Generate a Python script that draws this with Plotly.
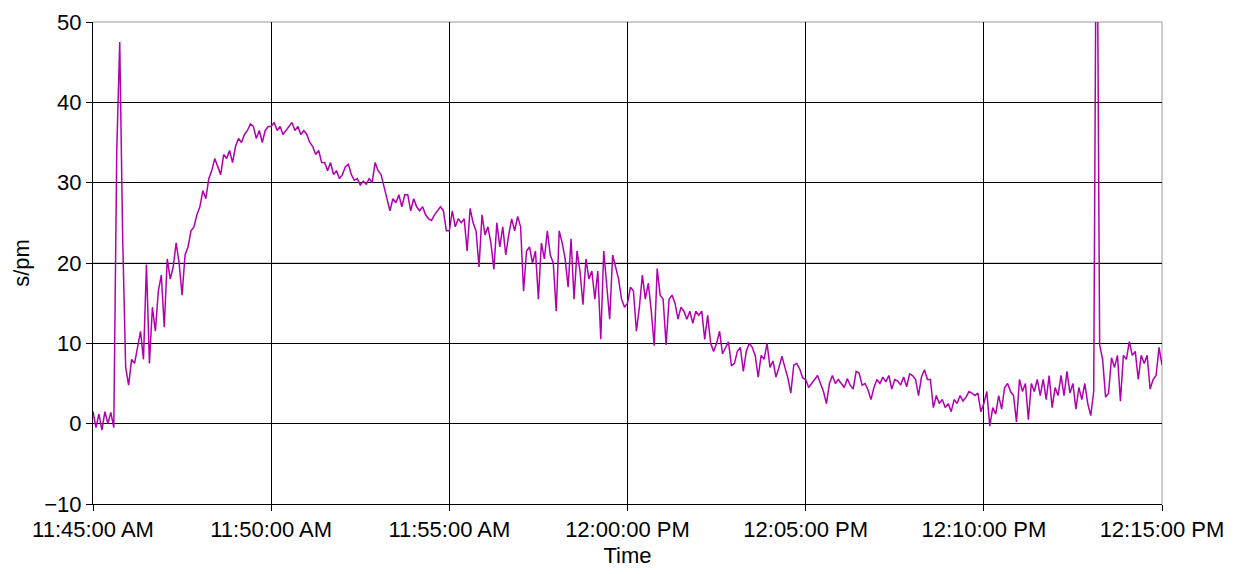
import pandas as pd
import plotly.graph_objects as go

start_time = "2020-01-01 11:45:00"
end_time = "2020-01-01 12:15:00"
sample_seconds = 5

# s/pm readings, one row per minute (12 readings of 5 s each)
minute_rows = [
    [1.5, -0.5, 1.2, -0.8, 1.5, 0, 1.4, -0.5, 34, 47.5, 23, 7],
    [4.8, 8, 7.5, 9.5, 11.5, 8, 19.8, 7.5, 14.5, 11.5, 16.5, 18.5],
    [12, 20.5, 18, 19.5, 22.5, 20, 16, 21, 22, 24, 24.5, 26],
    [27, 29, 28, 30.5, 31.5, 33, 32, 31, 33.5, 33, 34, 32.5],
    [34.5, 35.5, 35, 36, 36.5, 37.3, 37, 35.5, 36.5, 35, 36.5, 37],
    [37, 37.5, 36.5, 37, 36, 36.5, 37, 37.5, 36.5, 37, 36, 36.5],
    [36, 35, 34.5, 33.5, 34, 32.5, 32.5, 31.5, 32.5, 31, 31.5, 30.5],
    [31, 32, 32.3, 31, 30.3, 30.5, 29.7, 30.2, 29.8, 30.5, 30, 32.5],
    [31.5, 31, 29.5, 28, 26.5, 28, 27.5, 28.5, 27, 28.5, 28.5, 26.5],
    [28, 27, 26.5, 27, 26, 25.5, 25.3, 26, 26.5, 27, 26.5, 24],
    [24, 26.5, 24.5, 25.5, 25, 25.5, 21.5, 26.8, 25, 24, 19.5, 26],
    [23.5, 24.5, 22.5, 19.2, 25, 22, 24.5, 21, 23.5, 25.5, 24, 25.8],
    [24.5, 16.5, 21.5, 22, 20, 21.5, 15.5, 22.5, 20.5, 24, 21, 20],
    [14, 24, 22.5, 20.5, 17, 23, 15.5, 21.5, 19, 14.8, 20.5, 18],
    [19, 15.5, 19, 10.5, 21.5, 17, 13, 21, 19.5, 18, 15.5, 14.5],
    [15, 17, 16.5, 11.5, 14.5, 18.5, 15.5, 17.5, 14, 9.7, 19.3, 16],
    [15.5, 9.8, 15.5, 16, 15, 13, 14.5, 14, 13, 14, 12.5, 14],
    [13.5, 14, 10.5, 13.5, 10, 9, 10, 11.5, 8.7, 9.5, 10.2, 7.2],
    [7.5, 9, 9.5, 6.5, 9, 10, 9.5, 8.5, 5.8, 8.5, 8, 10],
    [7, 7.8, 5.8, 7, 8.4, 7, 5.7, 3.8, 7.3, 7.5, 6.8, 5.7],
    [5.5, 4.5, 5, 5.5, 6, 5, 4, 2.5, 5, 6, 5, 5.5],
    [5, 4.5, 5.6, 4.8, 4.3, 6.5, 6.3, 4.8, 5, 4.2, 3, 4.5],
    [5.5, 5, 5.8, 5.2, 6, 4.3, 5.5, 5.3, 4.8, 5.8, 4.6, 6.2],
    [6, 5.5, 3.5, 5.8, 6.7, 5.5, 5.5, 2, 3.5, 2.5, 3, 2],
    [2.5, 1.5, 3, 2.5, 3.5, 2.8, 3.3, 4, 3.8, 3.5, 3.8, 1.5],
    [2.5, 4, -0.3, 2, 1.2, 3.5, 1.8, 4.5, 5, 4, 3.5, 0.2],
    [5.5, 4, 5, 0.5, 5, 4, 5.5, 3.5, 5.5, 3, 6, 2],
    [4.5, 3.5, 6, 3.5, 6.5, 3.8, 5, 1.8, 4.5, 3, 5, 2.5],
    [1, 4, 75, 9.8, 8, 3.3, 3.8, 8.2, 7, 8.5, 2.8, 8.5],
    [8, 10.2, 8.5, 9, 5.5, 8.5, 7.5, 8.5, 4.3, 5.5, 6, 9.5],
    [7.3],
]

y_tick_values = [-10, 0, 10, 20, 30, 40, 50]

values = [v for row in minute_rows for v in row]
times = pd.date_range(start_time, periods=len(values), freq=f"{sample_seconds}s")

FONT = "Liberation Sans, Arial, sans-serif"

fig = go.Figure()
fig.add_trace(go.Scatter(
    x=times, y=values, mode="lines",
    line=dict(color="#B000B0", width=1.5),
    showlegend=False, hoverinfo="skip",
))

fig.update_layout(
    width=1234, height=566,
    margin=dict(l=85, r=80, t=14, b=70),
    paper_bgcolor="white", plot_bgcolor="white",
    font=dict(family=FONT, size=22, color="black"),
    showlegend=False,
    xaxis=dict(
        type="date",
        range=[start_time, end_time],
        dtick=300000,
        tickformat="%-I:%M:%S %p",
        showgrid=True, gridcolor="black", gridwidth=1,
        showline=True, linecolor="black", linewidth=1,
        ticks="outside", ticklen=6, tickcolor="black",
        zeroline=False,
        automargin=False,
        ticklabeloverflow="allow",
        title=dict(text="Time", font=dict(size=22), standoff=6),
        tickfont=dict(size=22),
    ),
    yaxis=dict(
        range=[-10, 50],
        tickvals=y_tick_values,
        ticktext=["\u221210" if v < 0 else str(v) for v in y_tick_values],
        showgrid=True, gridcolor="black", gridwidth=1,
        showline=True, linecolor="black", linewidth=1,
        ticks="outside", ticklen=6, tickcolor="black",
        zeroline=False,
        automargin=False,
        ticklabeloverflow="allow",
        title=dict(text="s/pm", font=dict(size=22), standoff=8),
        tickfont=dict(size=22),
    ),
    shapes=[
        dict(type="line", xref="paper", yref="y", x0=0, x1=1, y0=20, y1=20,
             line=dict(color="#9a9a9a", width=1), layer="between"),
        dict(type="line", xref="paper", yref="paper", x0=0, x1=1, y0=1, y1=1,
             line=dict(color="#9a9a9a", width=1), layer="between"),
        dict(type="line", xref="paper", yref="paper", x0=1, x1=1, y0=0, y1=1,
             line=dict(color="#9a9a9a", width=1), layer="between"),
    ],
)

fig.write_html("out.html")
